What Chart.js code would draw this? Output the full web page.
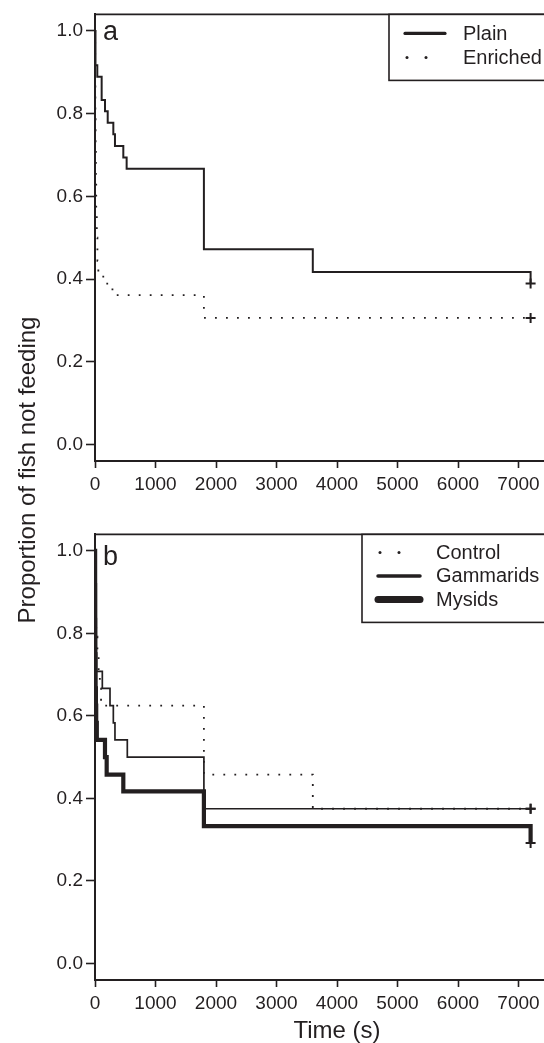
<!DOCTYPE html>
<html>
<head>
<meta charset="utf-8">
<script src="https://cdn.jsdelivr.net/npm/chart.js@4.4.1/dist/chart.umd.min.js"></script>
<style>
  html, body { margin: 0; padding: 0; background: #fff; overflow: hidden; width: 544px; height: 1043px; }
  #wrap { position: relative; width: 544px; height: 1043px; overflow: hidden; }
  .panel { position: absolute; left: 0; }
  #ytitle {
    position: absolute; left: -175px; top: 458px; width: 400px; height: 24px;
    line-height: 24px; text-align: center; transform: rotate(-90deg);
    font: 24px "Liberation Sans", Arial, sans-serif; color: #231f20; white-space: nowrap;
  }
</style>
</head>
<body>
<div id="wrap">
  <canvas id="panelA" class="panel" width="600" height="500" style="top:0"></canvas>
  <canvas id="panelB" class="panel" width="600" height="523" style="top:520px"></canvas>
  <div id="ytitle">Proportion of fish not feeding</div>
</div>
<script>
// panel a: plain vs enriched
var plainTime    = [0, 8, 38, 110, 165, 210, 303, 330, 468, 523, 1800, 3600, 7200];
var plainSurv    = [1, 0.917, 0.889, 0.833, 0.806, 0.778, 0.75, 0.722, 0.694, 0.667, 0.472, 0.417, 0.389];
var enrichedTime = [0, 3, 6, 10, 15, 20, 30, 40, 55, 160, 245, 320, 1800, 7200];
var enrichedSurv = [1, 0.889, 0.806, 0.722, 0.639, 0.556, 0.5, 0.444, 0.406, 0.389, 0.375, 0.361, 0.306, 0.306];

// panel b: control / gammarids / mysids
var controlTime   = [0, 5, 10, 20, 40, 60, 80, 100, 1800, 3600, 7200];
var controlSurv   = [1, 0.917, 0.833, 0.792, 0.75, 0.708, 0.667, 0.625, 0.458, 0.375, 0.375];
var gammaridTime  = [0, 3, 6, 9, 12, 15, 18, 22, 121, 248, 303, 330, 534, 1800, 7200];
var gammaridSurv  = [1, 0.958, 0.917, 0.875, 0.833, 0.792, 0.75, 0.708, 0.667, 0.625, 0.583, 0.542, 0.5, 0.375, 0.375];
var mysidTime     = [0, 2, 4, 6, 10, 15, 20, 30, 165, 193, 468, 1800, 7200];
var mysidSurv     = [1, 0.917, 0.833, 0.75, 0.667, 0.625, 0.583, 0.542, 0.5, 0.458, 0.417, 0.333, 0.292];

var timeTicks = [0, 1000, 2000, 3000, 4000, 5000, 6000, 7000];
var propTicks = [0, 0.2, 0.4, 0.6, 0.8, 1.0];

var ink = '#231f20';
var fontFam = '"Liberation Sans", Arial, Helvetica, sans-serif';
Chart.defaults.font.family = fontFam;
Chart.defaults.color = ink;

function steps(times, surv) {
    var out = [];
    for (var i = 0; i < times.length; i++) {
        out.push({x: times[i], y: surv[i]});
    }
    return out;
}

// + mark on the last (censored) point only
function endMark(ctx) {
    return ctx.dataIndex === ctx.dataset.data.length - 1 ? 5 : 0;
}

function line(label, times, surv, width, legendWidth, dotted) {
    return {
        label: label,
        data: steps(times, surv),
        stepped: true,
        borderColor: ink,
        borderWidth: width,
        borderDash: dotted ? [1.8, 9.2] : [],
        borderCapStyle: 'butt',
        borderJoinStyle: 'miter',
        legendWidth: legendWidth,
        fill: false,
        pointStyle: 'cross',
        pointRadius: endMark,
        pointBorderWidth: 2,
        pointBorderColor: ink,
        pointBackgroundColor: ink
    };
}

var framePlugin = {
    id: 'frame',
    beforeDatasetsDraw: function (chart) {
        var c = chart.ctx, a = chart.chartArea;
        c.save();
        c.strokeStyle = ink;
        c.lineWidth = 1.8;
        c.beginPath();
        c.moveTo(a.left, a.top);
        c.lineTo(a.right, a.top);
        c.lineTo(a.right, a.bottom);
        c.stroke();
        c.restore();
    }
};

var legendPlugin = {
    id: 'legendBox',
    afterDatasetsDraw: function (chart, args, o) {
        var c = chart.ctx, a = chart.chartArea;
        var top = a.top;
        c.save();
        c.fillStyle = '#fff';
        c.fillRect(o.left, top, a.right - o.left, o.height);
        c.strokeStyle = ink;
        c.lineWidth = 1.6;
        c.strokeRect(o.left, top, a.right - o.left, o.height);
        c.font = '20px ' + fontFam;
        c.textBaseline = 'middle';
        c.fillStyle = ink;
        chart.data.datasets.forEach(function (ds, i) {
            var y = top + o.firstRow + i * o.rowGap;
            var x0 = o.left + o.sampleStart;
            if (ds.borderDash.length) {
                [x0 + 2, x0 + 21].forEach(function (px) {
                    c.beginPath();
                    c.arc(px, y, 1.5, 0, Math.PI * 2);
                    c.fill();
                });
            } else {
                c.beginPath();
                c.lineCap = 'round';
                c.lineWidth = ds.legendWidth;
                c.moveTo(x0, y);
                c.lineTo(x0 + o.sampleLen, y);
                c.stroke();
            }
            c.fillText(ds.label, o.left + o.textStart, y + 1);
        });
        c.restore();
    }
};

var letterPlugin = {
    id: 'panelLetter',
    afterDraw: function (chart, args, o) {
        var c = chart.ctx, a = chart.chartArea;
        c.save();
        c.font = '27px ' + fontFam;
        c.fillStyle = ink;
        c.textBaseline = 'alphabetic';
        c.fillText(o.text, a.left + 8, a.top + o.baseline);
        c.restore();
    }
};

function makePanel(id, datasets, axisH, xTitle, legendOpts, letterOpts) {
    return new Chart(document.getElementById(id), {
        type: 'line',
        data: {datasets: datasets},
        plugins: [framePlugin, legendPlugin, letterPlugin],
        options: {
            responsive: false,
            animation: false,
            events: [],
            layout: {padding: {top: 14, left: 0, right: 21, bottom: 0}},
            plugins: {
                legend: {display: false},
                tooltip: {enabled: false},
                legendBox: legendOpts,
                panelLetter: letterOpts
            },
            scales: {
                x: {
                    type: 'linear',
                    min: 0,
                    max: 8000,
                    afterBuildTicks: function (s) { s.ticks = timeTicks.map(function (v) { return {value: v}; }); },
                    afterFit: function (s) { s.height = axisH; },
                    grid: {display: true, drawOnChartArea: false, drawTicks: true, tickLength: 7, tickWidth: 1.6, tickColor: ink},
                    border: {display: true, color: ink, width: 2},
                    ticks: {
                        color: ink, font: {size: 19}, padding: 5, maxRotation: 0, autoSkip: false,
                        callback: function (v) { return String(v); }
                    },
                    title: {
                        display: !!xTitle,
                        text: xTitle || '',
                        color: ink,
                        font: {size: 24, lineHeight: 1},
                        padding: {top: 0, bottom: 0}
                    }
                },
                y: {
                    type: 'linear',
                    min: -0.04,
                    max: 1.04,
                    afterBuildTicks: function (s) { s.ticks = propTicks.map(function (v) { return {value: v}; }); },
                    afterFit: function (s) { s.width = 95; },
                    grid: {display: true, drawOnChartArea: false, drawTicks: true, tickLength: 9, tickWidth: 1.6, tickColor: ink},
                    border: {display: true, color: ink, width: 2},
                    ticks: {
                        color: ink, font: {size: 19}, padding: 3,
                        callback: function (v) { return Number(v).toFixed(1); }
                    }
                }
            }
        }
    });
}

makePanel('panelA', [
    line('Plain', plainTime, plainSurv, 2, 3.2, false),
    line('Enriched', enrichedTime, enrichedSurv, 1.8, 0, true)
], 39, null,
    {left: 389, height: 66, firstRow: 19, rowGap: 24, sampleStart: 16, sampleLen: 40, textStart: 74},
    {text: 'a', baseline: 26});

makePanel('panelB', [
    line('Control', controlTime, controlSurv, 1.8, 0, true),
    line('Gammarids', gammaridTime, gammaridSurv, 1.7, 3.5, false),
    line('Mysids', mysidTime, mysidSurv, 4.2, 7, false)
], 63, 'Time (s)',
    {left: 362, height: 88, firstRow: 18, rowGap: 23.5, sampleStart: 16, sampleLen: 42, textStart: 74},
    {text: 'b', baseline: 31});
</script>
</body>
</html>
